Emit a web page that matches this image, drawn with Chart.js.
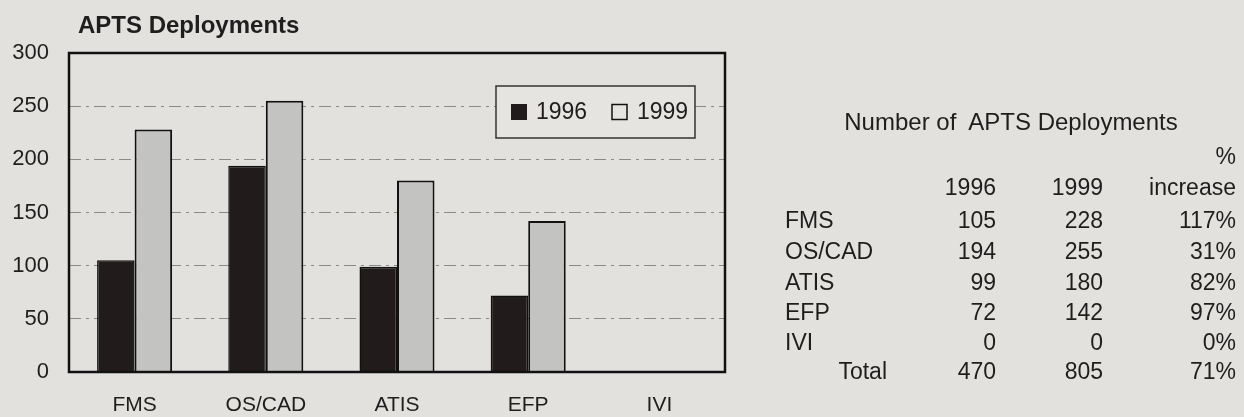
<!DOCTYPE html>
<html>
<head>
<meta charset="utf-8">
<script src="https://cdn.jsdelivr.net/npm/chart.js@4"></script>
<style>
  html, body { margin: 0; padding: 0; background: #e3e1de; }
  #wrap { position: relative; width: 1244px; height: 417px; overflow: hidden; }
  #chartBox { position: absolute; left: 0; top: 0; width: 1244px; height: 417px; }
  .cell {
    position: absolute;
    font-family: "Liberation Sans", Arial, sans-serif;
    font-size: 23px;
    line-height: 28px;
    height: 28px;
    color: #1e1e1e;
    white-space: nowrap;
  }
</style>
</head>
<body>
<div id="wrap">
  <div id="chartBox"><canvas id="aptsChart"></canvas></div>
  <div id="table"></div>
</div>
<script>
// adatok
const categories = ['FMS', 'OS/CAD', 'ATIS', 'EFP', 'IVI'];
const deployments1996 = [105, 194, 99, 72, 0];
const deployments1999 = [228, 255, 180, 142, 0];
const pctIncrease = ['117%', '31%', '82%', '97%', '0%'];
const totals = ['470', '805', '71%'];
const seriesLabels = ['1996', '1999'];
const yMin = 0, yMax = 300, yStep = 50;

const FONT = '"Liberation Sans", Arial, sans-serif';

// keret, cím és jelmagyarázat rajzolása
const framePlugin = {
    id: 'frame',
    afterDatasetsDraw(chart) {
        const { ctx, chartArea: a } = chart;
        ctx.save();
        ctx.strokeStyle = '#111';
        ctx.lineWidth = 2.5;
        ctx.strokeRect(a.left, a.top, a.right - a.left, a.bottom - a.top);

        // legend box
        const bx = a.left + 427, by = a.top + 33, bw = 199, bh = 52;
        ctx.fillStyle = '#e6e4e1';
        ctx.fillRect(bx, by, bw, bh);
        ctx.lineWidth = 1.5;
        ctx.strokeStyle = '#333';
        ctx.strokeRect(bx, by, bw, bh);

        const cy = by + bh / 2;
        ctx.fillStyle = '#221b1b';
        ctx.fillRect(bx + 15, cy - 8, 16, 16);
        ctx.fillStyle = '#e6e4e1';
        ctx.fillRect(bx + 116, cy - 7.5, 15, 15);
        ctx.lineWidth = 1.5;
        ctx.strokeStyle = '#111';
        ctx.strokeRect(bx + 116, cy - 7.5, 15, 15);

        ctx.fillStyle = '#1e1e1e';
        ctx.font = '23px ' + FONT;
        ctx.textBaseline = 'middle';
        ctx.textAlign = 'left';
        ctx.fillText(seriesLabels[0], bx + 40, cy + 1);
        ctx.fillText(seriesLabels[1], bx + 141, cy + 1);
        ctx.restore();
    },
    afterDraw(chart) {
        const ctx = chart.ctx;
        ctx.save();
        ctx.fillStyle = '#1e1e1e';
        ctx.font = 'bold 24px ' + FONT;
        ctx.textBaseline = 'alphabetic';
        ctx.textAlign = 'left';
        ctx.fillText('APTS Deployments', 78, 33);
        ctx.restore();
    }
};

const ctx = document.getElementById('aptsChart').getContext('2d');
window.myChart = new Chart(ctx, {
    type: 'bar',
    data: {
        labels: categories,
        datasets: [
            {
                label: seriesLabels[0],
                data: deployments1996,
                backgroundColor: '#221b1b',
                borderColor: '#111',
                borderWidth: 1.5,
                categoryPercentage: 0.572,
                barPercentage: 1
            },
            {
                label: seriesLabels[1],
                data: deployments1999,
                backgroundColor: '#c3c3c1',
                borderColor: '#111',
                borderWidth: 2,
                categoryPercentage: 0.572,
                barPercentage: 1
            }
        ]
    },
    options: {
        responsive: true,
        maintainAspectRatio: false,
        animation: false,
        layout: { padding: { top: 53, right: 519, left: 0, bottom: 0 } },
        plugins: {
            legend: { display: false },
            title: { display: false },
            tooltip: { enabled: false }
        },
        scales: {
            x: {
                grid: { display: false },
                border: { display: false },
                ticks: {
                    color: '#1e1e1e',
                    font: { family: FONT, size: 21 },
                    padding: 13,
                    maxRotation: 0
                },
                afterFit(scale) { scale.height = 45; }
            },
            y: {
                min: yMin,
                max: yMax,
                ticks: {
                    stepSize: yStep,
                    color: '#1e1e1e',
                    font: { family: FONT, size: 22 },
                    padding: 20
                },
                grid: {
                    drawTicks: false,
                    color: c => (c.tick && (c.tick.value === yMin || c.tick.value === yMax)) ? 'rgba(0,0,0,0)' : '#8a8a8a',
                    lineWidth: 1
                },
                border: { display: false, dash: [12, 5, 3, 5] },
                afterFit(scale) { scale.width = 69; }
            }
        }
    },
    plugins: [framePlugin]
});

// táblázat (szövegként)
const table = document.getElementById('table');
function place(text, x, y, align, size) {
    const el = document.createElement('div');
    el.className = 'cell';
    el.textContent = text;
    el.style.top = (y - 14) + 'px';
    if (size) el.style.fontSize = size + 'px';
    if (align === 'right') {
        el.style.right = (1244 - x) + 'px';
    } else if (align === 'center') {
        el.style.left = x + 'px';
        el.style.transform = 'translateX(-50%)';
    } else {
        el.style.left = x + 'px';
    }
    table.appendChild(el);
}

const colLabel = 785, col96 = 996, col99 = 1103, colPct = 1236;
place('Number of\u00a0 APTS Deployments', 1011, 122, 'center', 24);
place('%', colPct, 156, 'right');
place(seriesLabels[0], col96, 187, 'right');
place(seriesLabels[1], col99, 187, 'right');
place('increase', colPct, 187, 'right');
const rowY = [220, 251, 282, 312, 342];
categories.forEach((cat, i) => {
    place(cat, colLabel, rowY[i], 'left');
    place(String(deployments1996[i]), col96, rowY[i], 'right');
    place(String(deployments1999[i]), col99, rowY[i], 'right');
    place(pctIncrease[i], colPct, rowY[i], 'right');
});
const totalY = 371;
place('Total', 887, totalY, 'right');
place(totals[0], col96, totalY, 'right');
place(totals[1], col99, totalY, 'right');
place(totals[2], colPct, totalY, 'right');
</script>
</body>
</html>
